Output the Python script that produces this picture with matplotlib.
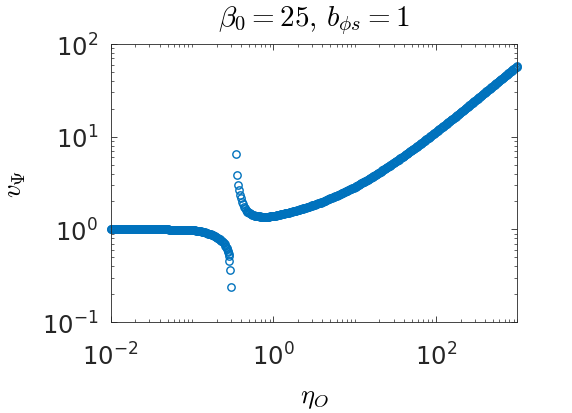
import matplotlib
matplotlib.use("Agg")
import matplotlib.pyplot as plt
from matplotlib.ticker import FixedLocator, LogLocator, NullFormatter
import numpy as np

plt.rcParams['mathtext.fontset'] = 'cm'
plt.rcParams['font.family'] = 'DejaVu Sans'

# values, stored as log10(eta_O) and log10(v_Psi)
# branch below the singular point
log_eta_low = [
    -2.00, -1.99, -1.98, -1.97, -1.96, -1.95, -1.94, -1.93, -1.92, -1.91,
    -1.90, -1.89, -1.88, -1.87, -1.86, -1.85, -1.84, -1.83, -1.82, -1.81,
    -1.80, -1.79, -1.78, -1.77, -1.76, -1.75, -1.74, -1.73, -1.72, -1.71,
    -1.70, -1.69, -1.68, -1.67, -1.66, -1.65, -1.64, -1.63, -1.62, -1.61,
    -1.60, -1.59, -1.58, -1.57, -1.56, -1.55, -1.54, -1.53, -1.52, -1.51,
    -1.50, -1.49, -1.48, -1.47, -1.46, -1.45, -1.44, -1.43, -1.42, -1.41,
    -1.40, -1.39, -1.38, -1.37, -1.36, -1.35, -1.34, -1.33, -1.32, -1.31,
    -1.30, -1.29, -1.28, -1.27, -1.26, -1.25, -1.24, -1.23, -1.22, -1.21,
    -1.20, -1.19, -1.18, -1.17, -1.16, -1.15, -1.14, -1.13, -1.12, -1.11,
    -1.10, -1.09, -1.08, -1.07, -1.06, -1.05, -1.04, -1.03, -1.02, -1.01,
    -1.00, -0.99, -0.98, -0.97, -0.96, -0.95, -0.94, -0.93, -0.92, -0.91,
    -0.90, -0.89, -0.88, -0.87, -0.86, -0.85, -0.84, -0.83, -0.82, -0.81,
    -0.80, -0.79, -0.78, -0.77, -0.76, -0.75, -0.74, -0.73, -0.72, -0.71,
    -0.70, -0.69, -0.68, -0.67, -0.66, -0.65, -0.64, -0.63, -0.62, -0.61,
    -0.60, -0.59, -0.58,
    -0.575, -0.569, -0.563, -0.557, -0.551, -0.546, -0.541, -0.535, -0.526,
]
log_v_low = [
    0.006, 0.006, 0.006, 0.006, 0.006, 0.006, 0.006, 0.006, 0.006, 0.006,
    0.006, 0.006, 0.006, 0.006, 0.006, 0.006, 0.006, 0.006, 0.006, 0.006,
    0.004, 0.004, 0.004, 0.004, 0.004, 0.004, 0.004, 0.004, 0.004, 0.004,
    0.004, 0.004, 0.004, 0.004, 0.004, 0.004, 0.004, 0.004, 0.004, 0.004,
    0.002, 0.002, 0.002, 0.002, 0.002, 0.002, 0.002, 0.002, 0.002, 0.002,
    0.002, 0.002, 0.000, 0.000, 0.000, 0.000, 0.000, 0.000, 0.000, 0.000,
    0.000, 0.000, 0.000, 0.000, 0.000, 0.000, 0.000, 0.000, 0.000, 0.000,
    0.000, 0.000, -0.003, -0.003, -0.003, -0.003, -0.003, -0.003, -0.003, -0.003,
    -0.003, -0.003, -0.005, -0.005, -0.005, -0.006, -0.006, -0.006, -0.006, -0.007,
    -0.007, -0.007, -0.007, -0.008, -0.008, -0.008, -0.009, -0.009, -0.009, -0.010,
    -0.010, -0.010, -0.011, -0.011, -0.012, -0.013, -0.014, -0.015, -0.017, -0.018,
    -0.020, -0.022, -0.024, -0.026, -0.028, -0.030, -0.033, -0.036, -0.039, -0.042,
    -0.045, -0.048, -0.052, -0.055, -0.059, -0.062, -0.066, -0.070, -0.075, -0.080,
    -0.085, -0.090, -0.095, -0.101, -0.107, -0.114, -0.121, -0.129, -0.138, -0.148,
    -0.160, -0.175, -0.190,
    -0.200, -0.215, -0.230, -0.245, -0.265, -0.290, -0.345, -0.438, -0.625,
]

# branch above the singular point
log_eta_high = [
    -0.463, -0.450, -0.438, -0.426, -0.414, -0.402, -0.390, -0.378, -0.366,
    -0.354, -0.342,
    -0.33, -0.32, -0.31,
    -0.30, -0.29, -0.28, -0.27, -0.26, -0.25, -0.24, -0.23, -0.22, -0.21,
    -0.20, -0.19, -0.18, -0.17, -0.16, -0.15, -0.14, -0.13, -0.12, -0.11,
    -0.10, -0.09, -0.08, -0.07, -0.06, -0.05, -0.04, -0.03, -0.02, -0.01,
    0.00, 0.01, 0.02, 0.03, 0.04, 0.05, 0.06, 0.07, 0.08, 0.09,
    0.10, 0.11, 0.12, 0.13, 0.14, 0.15, 0.16, 0.17, 0.18, 0.19,
    0.20, 0.21, 0.22, 0.23, 0.24, 0.25, 0.26, 0.27, 0.28, 0.29,
    0.30, 0.31, 0.32, 0.33, 0.34, 0.35, 0.36, 0.37, 0.38, 0.39,
    0.40, 0.41, 0.42, 0.43, 0.44, 0.45, 0.46, 0.47, 0.48, 0.49,
    0.50, 0.51, 0.52, 0.53, 0.54, 0.55, 0.56, 0.57, 0.58, 0.59,
    0.60, 0.61, 0.62, 0.63, 0.64, 0.65, 0.66, 0.67, 0.68, 0.69,
    0.70, 0.71, 0.72, 0.73, 0.74, 0.75, 0.76, 0.77, 0.78, 0.79,
    0.80, 0.81, 0.82, 0.83, 0.84, 0.85, 0.86, 0.87, 0.88, 0.89,
    0.90, 0.91, 0.92, 0.93, 0.94, 0.95, 0.96, 0.97, 0.98, 0.99,
    1.00, 1.01, 1.02, 1.03, 1.04, 1.05, 1.06, 1.07, 1.08, 1.09,
    1.10, 1.11, 1.12, 1.13, 1.14, 1.15, 1.16, 1.17, 1.18, 1.19,
    1.20, 1.21, 1.22, 1.23, 1.24, 1.25, 1.26, 1.27, 1.28, 1.29,
    1.30, 1.31, 1.32, 1.33, 1.34, 1.35, 1.36, 1.37, 1.38, 1.39,
    1.40, 1.41, 1.42, 1.43, 1.44, 1.45, 1.46, 1.47, 1.48, 1.49,
    1.50, 1.51, 1.52, 1.53, 1.54, 1.55, 1.56, 1.57, 1.58, 1.59,
    1.60, 1.61, 1.62, 1.63, 1.64, 1.65, 1.66, 1.67, 1.68, 1.69,
    1.70, 1.71, 1.72, 1.73, 1.74, 1.75, 1.76, 1.77, 1.78, 1.79,
    1.80, 1.81, 1.82, 1.83, 1.84, 1.85, 1.86, 1.87, 1.88, 1.89,
    1.90, 1.91, 1.92, 1.93, 1.94, 1.95, 1.96, 1.97, 1.98, 1.99,
    2.00, 2.01, 2.02, 2.03, 2.04, 2.05, 2.06, 2.07, 2.08, 2.09,
    2.10, 2.11, 2.12, 2.13, 2.14, 2.15, 2.16, 2.17, 2.18, 2.19,
    2.20, 2.21, 2.22, 2.23, 2.24, 2.25, 2.26, 2.27, 2.28, 2.29,
    2.30, 2.31, 2.32, 2.33, 2.34, 2.35, 2.36, 2.37, 2.38, 2.39,
    2.40, 2.41, 2.42, 2.43, 2.44, 2.45, 2.46, 2.47, 2.48, 2.49,
    2.50, 2.51, 2.52, 2.53, 2.54, 2.55, 2.56, 2.57, 2.58, 2.59,
    2.60, 2.61, 2.62, 2.63, 2.64, 2.65, 2.66, 2.67, 2.68, 2.69,
    2.70, 2.71, 2.72, 2.73, 2.74, 2.75, 2.76, 2.77, 2.78, 2.79,
    2.80, 2.81, 2.82, 2.83, 2.84, 2.85, 2.86, 2.87, 2.88, 2.89,
    2.90, 2.91, 2.92, 2.93, 2.94, 2.95, 2.96, 2.97, 2.98, 2.99,
    3.00,
]
log_v_high = [
    0.813, 0.590, 0.480, 0.425, 0.375, 0.335, 0.300, 0.270, 0.245,
    0.225, 0.208,
    0.197, 0.188, 0.182,
    0.176, 0.171, 0.166, 0.162, 0.158, 0.155, 0.152, 0.149, 0.147, 0.145,
    0.143, 0.141, 0.140, 0.139, 0.138, 0.137, 0.137, 0.136, 0.136, 0.136,
    0.136, 0.136, 0.137, 0.137, 0.138, 0.138, 0.139, 0.140, 0.141, 0.142,
    0.143, 0.145, 0.147, 0.149, 0.151, 0.153, 0.155, 0.157, 0.159, 0.161,
    0.163, 0.165, 0.167, 0.169, 0.171, 0.173, 0.175, 0.177, 0.179, 0.181,
    0.183, 0.186, 0.188, 0.191, 0.193, 0.196, 0.198, 0.201, 0.203, 0.206,
    0.208, 0.211, 0.213, 0.216, 0.218, 0.221, 0.223, 0.226, 0.228, 0.231,
    0.233, 0.236, 0.239, 0.242, 0.245, 0.249, 0.252, 0.255, 0.258, 0.261,
    0.264, 0.267, 0.270, 0.273, 0.276, 0.280, 0.283, 0.286, 0.289, 0.292,
    0.295, 0.299, 0.303, 0.306, 0.310, 0.314, 0.318, 0.322, 0.326, 0.329,
    0.333, 0.337, 0.341, 0.345, 0.348, 0.352, 0.356, 0.360, 0.364, 0.367,
    0.371, 0.375, 0.379, 0.384, 0.388, 0.392, 0.396, 0.400, 0.404, 0.409,
    0.413, 0.417, 0.421, 0.425, 0.430, 0.434, 0.438, 0.442, 0.447, 0.451,
    0.455, 0.460, 0.465, 0.470, 0.475, 0.481, 0.486, 0.491, 0.496, 0.501,
    0.506, 0.511, 0.516, 0.521, 0.526, 0.532, 0.537, 0.542, 0.547, 0.552,
    0.557, 0.563, 0.568, 0.574, 0.579, 0.585, 0.591, 0.596, 0.602, 0.607,
    0.613, 0.619, 0.624, 0.630, 0.635, 0.641, 0.647, 0.652, 0.658, 0.663,
    0.669, 0.675, 0.681, 0.687, 0.693, 0.699, 0.705, 0.711, 0.717, 0.723,
    0.729, 0.735, 0.741, 0.747, 0.753, 0.759, 0.765, 0.771, 0.777, 0.783,
    0.789, 0.795, 0.802, 0.808, 0.814, 0.821, 0.827, 0.834, 0.840, 0.847,
    0.853, 0.859, 0.866, 0.872, 0.878, 0.885, 0.891, 0.898, 0.904, 0.911,
    0.917, 0.924, 0.930, 0.937, 0.944, 0.951, 0.957, 0.964, 0.971, 0.977,
    0.984, 0.991, 0.997, 1.004, 1.011, 1.018, 1.024, 1.031, 1.038, 1.044,
    1.051, 1.058, 1.065, 1.072, 1.079, 1.086, 1.092, 1.099, 1.106, 1.113,
    1.120, 1.127, 1.134, 1.141, 1.148, 1.155, 1.161, 1.168, 1.175, 1.182,
    1.189, 1.196, 1.203, 1.210, 1.217, 1.225, 1.232, 1.239, 1.246, 1.253,
    1.260, 1.267, 1.274, 1.281, 1.288, 1.296, 1.303, 1.310, 1.317, 1.324,
    1.331, 1.338, 1.345, 1.353, 1.360, 1.367, 1.374, 1.381, 1.389, 1.396,
    1.403, 1.410, 1.417, 1.425, 1.432, 1.439, 1.446, 1.453, 1.461, 1.468,
    1.475, 1.482, 1.489, 1.497, 1.504, 1.511, 1.518, 1.525, 1.533, 1.540,
    1.547, 1.554, 1.561, 1.569, 1.576, 1.583, 1.590, 1.597, 1.605, 1.612,
    1.619, 1.626, 1.633, 1.641, 1.648, 1.655, 1.662, 1.669, 1.677, 1.684,
    1.691, 1.698, 1.705, 1.713, 1.720, 1.727, 1.734, 1.741, 1.749, 1.756,
    1.763,
]

x_major = [1e-2, 1e0, 1e2]
y_major = [1e-1, 1e0, 1e1, 1e2]

eta = 10 ** np.array(log_eta_low + log_eta_high)
v = 10 ** np.array(log_v_low + log_v_high)

fig = plt.figure(figsize=(5.72, 4.14), dpi=100)
ax = fig.add_axes([0.1935, 0.2198, 0.711, 0.6715])

ax.plot(eta, v, linestyle='none', marker='o', markersize=5.3,
        markerfacecolor='none', markeredgecolor='#0072BD',
        markeredgewidth=1.0, clip_on=False)

ax.set_xscale('log')
ax.set_yscale('log')
ax.set_xlim(1e-2, 1e3)
ax.set_ylim(1e-1, 1e2)

ax.xaxis.set_major_locator(FixedLocator(x_major))
ax.xaxis.set_minor_locator(LogLocator(base=10, subs=range(1, 10), numticks=20))
ax.xaxis.set_minor_formatter(NullFormatter())
ax.yaxis.set_major_locator(FixedLocator(y_major))
ax.yaxis.set_minor_locator(LogLocator(base=10, subs=range(1, 10), numticks=20))
ax.yaxis.set_minor_formatter(NullFormatter())

dark = '#262626'
ax.tick_params(which='both', direction='in', top=True, right=True,
               colors=dark, labelsize=17.5)
ax.tick_params(which='major', length=4, width=0.6)
ax.tick_params(axis='x', which='major', pad=15)
ax.tick_params(axis='y', which='major', pad=9)
ax.tick_params(which='minor', length=2, width=0.5)
for s in ax.spines.values():
    s.set_color(dark)
    s.set_linewidth(0.6)

ax.set_title(r'$\beta_0 = 25,\, b_{\phi s} = 1$', fontsize=21, pad=14)
ax.set_xlabel(r'$\eta_O$', fontsize=19, labelpad=10)
ax.set_ylabel(r'$v_\Psi$', fontsize=19, labelpad=10)

fig.savefig('out.png', dpi=100)
